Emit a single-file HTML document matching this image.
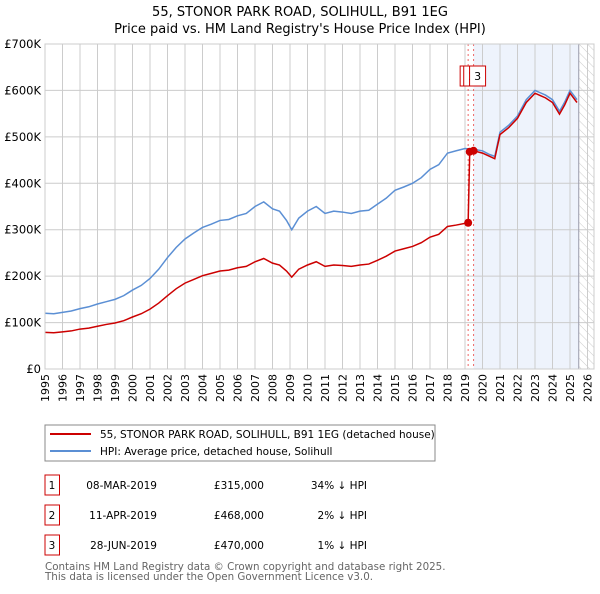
<!DOCTYPE html>
<html><head><meta charset="utf-8"><style>
body{margin:0;background:#fff;font-family:"DejaVu Sans","Liberation Sans",sans-serif;}
svg text{font-family:"DejaVu Sans","Liberation Sans",sans-serif;}
</style></head><body>
<svg id="c" width="600" height="590" xmlns="http://www.w3.org/2000/svg">
<defs><pattern id="hatch" width="6" height="6" patternUnits="userSpaceOnUse" patternTransform="rotate(-45)"><line x1="0" y1="0" x2="0" y2="6" stroke="#ccc" stroke-width="1"/></pattern></defs>
<text x="300" y="16" text-anchor="middle" font-size="13">55, STONOR PARK ROAD, SOLIHULL, B91 1EG</text>
<text x="300" y="33" text-anchor="middle" font-size="13">Price paid vs. HM Land Registry's House Price Index (HPI)</text>
<g id="plot"></g>
<rect x="45" y="425" width="390" height="36" fill="#fff" stroke="#888"/>
<line x1="50" y1="434" x2="91" y2="434" stroke="#cc0000" stroke-width="2"/>
<text x="100" y="438" font-size="10.5">55, STONOR PARK ROAD, SOLIHULL, B91 1EG (detached house)</text>
<line x1="50" y1="451" x2="91" y2="451" stroke="#5b8fd4" stroke-width="2"/>
<text x="100" y="455" font-size="10.5">HPI: Average price, detached house, Solihull</text>
<g id="table" font-size="10.5"></g>
<text x="45" y="570" font-size="10.3" fill="#666">Contains HM Land Registry data © Crown copyright and database right 2025.</text>
<text x="45" y="580" font-size="10.3" fill="#666">This data is licensed under the Open Government Licence v3.0.</text>
</svg>
<script>
const hpiYears=[1995,1995.5,1996,1996.5,1997,1997.5,1998,1998.5,1999,1999.5,2000,2000.5,2001,2001.5,2002,2002.5,2003,2003.5,2004,2004.5,2005,2005.5,2006,2006.5,2007,2007.5,2008,2008.4,2008.8,2009.1,2009.5,2010,2010.5,2011,2011.5,2012,2012.5,2013,2013.5,2014,2014.5,2015,2015.5,2016,2016.5,2017,2017.5,2018,2018.5,2019,2019.5,2020,2020.4,2020.7,2021,2021.5,2022,2022.5,2023,2023.3,2023.6,2024,2024.4,2024.7,2025,2025.4];
const hpiValues=[120,119,122,125,130,134,140,145,150,158,170,180,195,215,240,262,280,293,305,312,320,322,330,335,350,360,345,340,320,300,325,340,350,335,340,338,335,340,342,355,368,385,392,400,412,430,440,465,470,475,473,470,462,458,510,525,545,580,600,595,590,580,555,575,600,580];
const redYears=[1995,1995.5,1996,1996.5,1997,1997.5,1998,1998.5,1999,1999.5,2000,2000.5,2001,2001.5,2002,2002.5,2003,2003.5,2004,2004.5,2005,2005.5,2006,2006.5,2007,2007.5,2008,2008.4,2008.8,2009.1,2009.5,2010,2010.5,2011,2011.5,2012,2012.5,2013,2013.5,2014,2014.5,2015,2015.5,2016,2016.5,2017,2017.5,2018,2018.5,2019.18,2019.27,2019.49,2020,2020.4,2020.7,2021,2021.5,2022,2022.5,2023,2023.3,2023.6,2024,2024.4,2024.7,2025,2025.4];
const redValues=[79,78,80,82,86,88,92,96,99,104,112,119,129,142,158,173,185,193,201,206,211,213,218,221,231,238,228,224,211,198,215,224,231,221,224,223,221,224,226,234,243,254,259,264,272,284,290,307,310,315,468,470,465,458,453,505,520,540,574,594,589,584,574,549,569,594,574];
const saleLabels=["1","2","3"];
const saleYears=[2019.18,2019.27,2019.49];
const saleValues=[315,468,470];
const saleDates=["08-MAR-2019","11-APR-2019","28-JUN-2019"];
const salePrices=["£315,000","£468,000","£470,000"];
const saleHpi=["34% ↓ HPI","2% ↓ HPI","1% ↓ HPI"];
const yTicks=[0,100,200,300,400,500,600,700];
const yTickLabels=["£0","£100K","£200K","£300K","£400K","£500K","£600K","£700K"];
const xTicks=[1995,1996,1997,1998,1999,2000,2001,2002,2003,2004,2005,2006,2007,2008,2009,2010,2011,2012,2013,2014,2015,2016,2017,2018,2019,2020,2021,2022,2023,2024,2025,2026];
const dataEnd=2025.5;
const L=45,R=594,T=44,B=369;
const x=v=>L+(v-1995)*17.5;
const y=v=>B-(v/700)*(B-T);
const NS="http://www.w3.org/2000/svg";
const g=document.getElementById('plot');
function mk(tag,attrs,parent){const e=document.createElementNS(NS,tag);for(const k in attrs)e.setAttribute(k,attrs[k]);(parent||g).appendChild(e);return e;}
let e=mk('rect',{x:L,y:T,width:R-L,height:B-T,fill:'#fff'});


e=mk('rect',{x:x(saleYears[2]),y:T,width:x(dataEnd)-x(saleYears[2]),height:B-T,fill:'#eef3fc'});


e=mk('rect',{x:x(dataEnd),y:T,width:R-x(dataEnd),height:B-T,fill:'url(#hatch)'});


xTicks.forEach(t=>{
 e=mk('line',{x1:x(t),x2:x(t),y1:T,y2:B,stroke:'#ccc'});
 
 
 const tx=x(t)+4, ty=B+5;
 e=mk('text',{x:tx,y:ty,'text-anchor':'end','font-size':11,transform:'rotate(-90 '+tx+' '+ty+')'});
 e.textContent=t;
 
 
});
yTicks.forEach((t,i)=>{
 e=mk('line',{x1:L,x2:R,y1:y(t),y2:y(t),stroke:'#ccc'});
 
 
 e=mk('text',{x:L-4,y:y(t)+4,'text-anchor':'end','font-size':11.5});
 e.textContent=yTickLabels[i];
 
 
});
e=mk('line',{x1:x(dataEnd),x2:x(dataEnd),y1:T,y2:B,stroke:'#99a'});


[0,2].forEach(i=>{
 e=mk('line',{x1:x(saleYears[i]),x2:x(saleYears[i]),y1:T,y2:B,stroke:'#e66','stroke-dasharray':'2,3'});
 
 
});
e=mk('polyline',{points:hpiYears.map((t,i)=>x(t)+','+y(hpiValues[i])).join(' '),fill:'none',stroke:'#5b8fd4','stroke-width':1.5});


e=mk('polyline',{points:redYears.map((t,i)=>x(t)+','+y(redValues[i])).join(' '),fill:'none',stroke:'#cc0000','stroke-width':1.5});


saleYears.forEach((t,i)=>{
 e=mk('circle',{cx:x(t),cy:y(saleValues[i]),r:4,fill:'#cc0000'});
 
 
});
saleYears.forEach((t,i)=>{
 const bx=x(t)-4+i*2;
 e=mk('rect',{x:bx-4,y:66,width:16,height:20,fill:'#fff',stroke:'#cc0000'});
 
 
 e=mk('text',{x:bx+4,y:80,'text-anchor':'middle','font-size':11});
 e.textContent=saleLabels[i];
 
 
});
e=mk('rect',{x:L,y:T,width:R-L,height:B-T,fill:'none',stroke:'#ccc'});


const tb=document.getElementById('table');
saleLabels.forEach((s,i)=>{
 const yy=489+i*30;
 e=mk('rect',{x:45,y:yy-14,width:14.5,height:20,fill:'#fff',stroke:'#cc0000'},tb);
 
 
 e=mk('text',{x:52,y:yy,'text-anchor':'middle'},tb);e.textContent=s;
 
 
 e=mk('text',{x:157,y:yy,'text-anchor':'end'},tb);e.textContent=saleDates[i];
 
 
 e=mk('text',{x:264,y:yy,'text-anchor':'end'},tb);e.textContent=salePrices[i];
 
 
 e=mk('text',{x:367,y:yy,'text-anchor':'end'},tb);e.textContent=saleHpi[i];
 
 
});
</script>
</body></html>
